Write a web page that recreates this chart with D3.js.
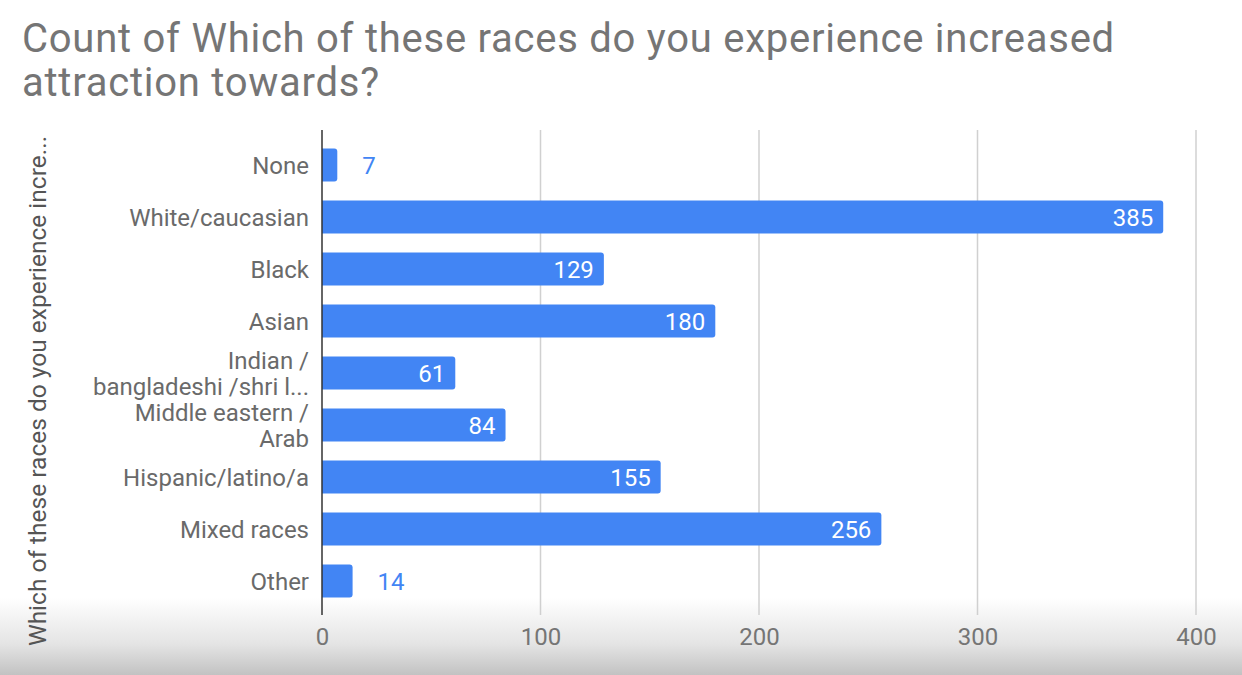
<!DOCTYPE html>
<html><head><meta charset="utf-8">
<script src="https://cdn.jsdelivr.net/npm/d3@7/dist/d3.min.js"></script>
<style>body{margin:0;background:#fff;}svg{display:block;font-family:Roboto,"Noto Sans",sans-serif;}</style>
</head><body><svg id="c" width="1242" height="675"></svg>
<script>
const categories = ["None","White/caucasian","Black","Asian","Indian / bangladeshi /shri l...","Middle eastern / Arab","Hispanic/latino/a","Mixed races","Other"];
const categoryLines = [["None"],["White/caucasian"],["Black"],["Asian"],["Indian /","bangladeshi /shri l..."],["Middle eastern /","Arab"],["Hispanic/latino/a"],["Mixed races"],["Other"]];
const values = [7,385,129,180,61,84,155,256,14];
const xTicks = [0,100,200,300,400];
const titleLines = ["Count of Which of these races do you experience increased","attraction towards?"];
const yTitle = "Which of these races do you experience incre...";

const svg = d3.select("#c");
const defs = svg.append("defs");
const g = defs.append("linearGradient").attr("id","bg").attr("x1",0).attr("x2",0).attr("y1",0).attr("y2",1);
g.append("stop").attr("offset","0").attr("stop-color","#ffffff");
g.append("stop").attr("offset","0.6").attr("stop-color","#e4e4e4");
g.append("stop").attr("offset","1").attr("stop-color","#c2c2c2");
svg.append("rect").attr("x",0).attr("y",598).attr("width",1242).attr("height",77).attr("fill","url(#bg)");

const x = d3.scaleLinear().domain([0,400]).range([322,1196]);
const y = d3.scaleBand().domain(categories).range([139,607]).paddingInner(0.37).paddingOuter(0.185);

// gridlines
svg.append("g").selectAll("line").data(xTicks.slice(1)).join("line")
  .attr("x1",d=>x(d)).attr("x2",d=>x(d)).attr("y1",130).attr("y2",615)
  .attr("stroke","#d0d0d0").attr("stroke-width",1.5);

// x tick labels
const xa = d3.axisBottom(x).tickValues(xTicks).tickSize(0).tickPadding(0);
const xg = svg.append("g").attr("transform","translate(0,628)").call(xa);
xg.select(".domain").remove();
xg.selectAll("text").attr("font-size",24).attr("fill","#757575").attr("dy","0.71em").attr("font-family","Roboto");

// bars with right rounded corners
function barPath(x0,y0,w,h,r){
  r=Math.min(r,w);
  return `M${x0},${y0}H${x0+w-r}Q${x0+w},${y0} ${x0+w},${y0+r}V${y0+h-r}Q${x0+w},${y0+h} ${x0+w-r},${y0+h}H${x0}Z`;
}
svg.append("g").selectAll("path").data(values).join("path")
  .attr("d",(d,i)=>barPath(x(0),y(categories[i]),x(d)-x(0),y.bandwidth(),3))
  .attr("fill","#4285f4");

// axis line
svg.append("line").attr("x1",x(0)).attr("x2",x(0)).attr("y1",130).attr("y2",615).attr("stroke","#333").attr("stroke-width",1.5);

// value labels
const inside = d => (x(d)-x(0)) > 70;
svg.append("g").selectAll("text").data(values).join("text")
  .attr("x",(d)=> inside(d) ? x(d)-10 : x(d)+25)
  .attr("y",(d,i)=>y(categories[i])+y.bandwidth()/2)
  .attr("dy","0.36em")
  .attr("text-anchor",(d)=> inside(d) ? "end" : "start")
  .attr("font-size",24)
  .attr("fill",(d)=> inside(d) ? "#ffffff" : "#4285f4")
  .text(d=>d);

// category labels
const fs = 24;
const cl = svg.append("g").selectAll("text").data(categories).join("text")
  .attr("x",309).attr("y",(d)=>y(d)+y.bandwidth()/2)
  .attr("text-anchor","end").attr("font-size",fs).attr("fill","#6a6a6a");
cl.each(function(d,i){
  const lines = categoryLines[i];
  const n = lines.length;
  d3.select(this).selectAll("tspan").data(lines).join("tspan")
    .attr("x",309).attr("dy",(l,j)=> j===0 ? (0.36*fs - (n-1)*13)+"px" : "26px")
    .text(l=>l);
});

// y title
svg.append("text").attr("transform","translate(46,391) rotate(-90)")
  .attr("text-anchor","middle").attr("font-size",24.5).attr("fill","#555").text(yTitle);

// title
const tt = svg.append("text").attr("x",22).attr("y",52).attr("font-size",40)
  .attr("letter-spacing","0.75px").attr("fill","#757575");
tt.selectAll("tspan").data(titleLines).join("tspan")
  .attr("x",22).attr("dy",(d,i)=> i===0 ? 0 : 44).text(d=>d);
</script></body></html>
